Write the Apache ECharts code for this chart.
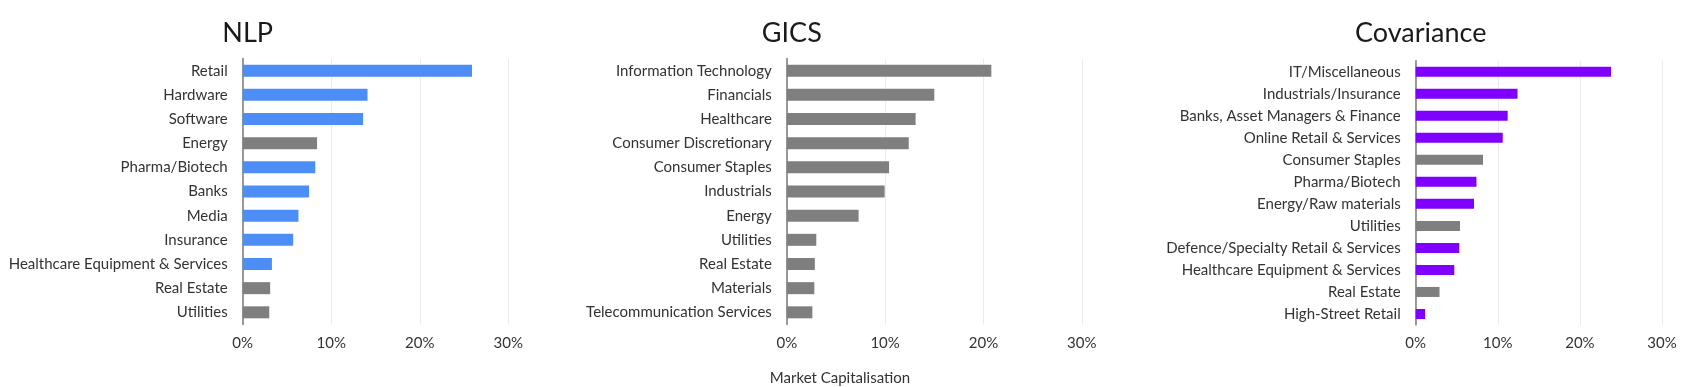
<!DOCTYPE html>
<html>
<head>
<meta charset="utf-8">
<script src="https://cdn.jsdelivr.net/npm/echarts@6/dist/echarts.min.js"></script>
<style>
html,body{margin:0;padding:0;background:#fff;}
#c{width:1688px;height:387px;}
</style>
</head>
<body>
<div id="c"></div>
<script>
// ---- data ----
const nlpCategories = ['Retail','Hardware','Software','Energy','Pharma/Biotech','Banks','Media','Insurance','Healthcare Equipment & Services','Real Estate','Utilities'];
const nlpValues = [25.9, 14.1, 13.6, 8.4, 8.2, 7.5, 6.3, 5.7, 3.3, 3.1, 3.0];
const nlpGrey = ['Energy','Real Estate','Utilities'];

const gicsCategories = ['Information Technology','Financials','Healthcare','Consumer Discretionary','Consumer Staples','Industrials','Energy','Utilities','Real Estate','Materials','Telecommunication Services'];
const gicsValues = [20.8, 15.0, 13.1, 12.4, 10.4, 9.95, 7.3, 3.0, 2.85, 2.8, 2.6];

const covCategories = ['IT/Miscellaneous','Industrials/Insurance','Banks, Asset Managers & Finance','Online Retail & Services','Consumer Staples','Pharma/Biotech','Energy/Raw materials','Utilities','Defence/Specialty Retail & Services','Healthcare Equipment & Services','Real Estate','High-Street Retail'];
const covValues = [23.8, 12.4, 11.2, 10.6, 8.2, 7.4, 7.1, 5.4, 5.3, 4.7, 2.9, 1.15];
const covGrey = ['Consumer Staples','Utilities','Real Estate'];

const xTicks = [0, 10, 20, 30];
const titles = ['NLP', 'GICS', 'Covariance'];
const xAxisTitle = 'Market Capitalisation';

// ---- styles ----
const FONT = 'Lato';
const BLUE = '#4d8ef6', PURPLE = '#8000ff', GREY = '#7f7f7f';

const grids = [
  {left: 242.7, width: 265.6, top: 58.6, height: 265.8},
  {left: 786.8, width: 295, top: 58.6, height: 265.8},
  {left: 1415.7, width: 246.3, top: 60.7, height: 264.3}
];

function xAxisFor(i) {
  return {
    type: 'value', gridIndex: i, min: xTicks[0], max: xTicks[xTicks.length-1], interval: 10,
    axisLine: {show: false}, axisTick: {show: false},
    splitLine: {show: true, lineStyle: {color: '#ececec', width: 1}},
    axisLabel: {formatter: '{value}%', color: '#333', fontFamily: FONT, fontSize: 15, margin: 11}
  };
}
function yAxisFor(i, cats) {
  return {
    type: 'category', gridIndex: i, data: cats, inverse: true,
    axisLine: {show: true, lineStyle: {color: '#7a7a7a', width: 1.5}},
    axisTick: {show: false},
    axisLabel: {color: '#333', fontFamily: FONT, fontSize: 15, margin: 15}
  };
}
function colored(cats, vals, base, greyList) {
  return vals.map((v, k) => ({value: v, itemStyle: {color: greyList.indexOf(cats[k]) >= 0 ? GREY : base}}));
}
const titleStyle = {fontFamily: FONT, fontSize: 27, fontWeight: 'normal', color: '#1a1a1a'};

const chart = echarts.init(document.getElementById('c'), null, {renderer: 'canvas'});
chart.setOption({
  animation: false,
  backgroundColor: '#fff',
  title: [
    {text: titles[0], left: grids[0].left, top: 15, textAlign: 'center', textStyle: titleStyle},
    {text: titles[1], left: grids[1].left, top: 15, textAlign: 'center', textStyle: titleStyle},
    {text: titles[2], left: grids[2].left, top: 15, textAlign: 'center', textStyle: titleStyle},
    {text: xAxisTitle, left: 835, top: 366, textAlign: 'center', textStyle: {fontFamily: FONT, fontSize: 15, fontWeight: 'normal', color: '#333'}}
  ],
  grid: grids,
  xAxis: [xAxisFor(0), xAxisFor(1), xAxisFor(2)],
  yAxis: [yAxisFor(0, nlpCategories), yAxisFor(1, gicsCategories), yAxisFor(2, covCategories)],
  series: [
    {type: 'bar', xAxisIndex: 0, yAxisIndex: 0, barWidth: 12, data: colored(nlpCategories, nlpValues, BLUE, nlpGrey)},
    {type: 'bar', xAxisIndex: 1, yAxisIndex: 1, barWidth: 12, data: gicsValues, itemStyle: {color: GREY}},
    {type: 'bar', xAxisIndex: 2, yAxisIndex: 2, barWidth: 10, data: colored(covCategories, covValues, PURPLE, covGrey)}
  ]
});
</script>
</body>
</html>
